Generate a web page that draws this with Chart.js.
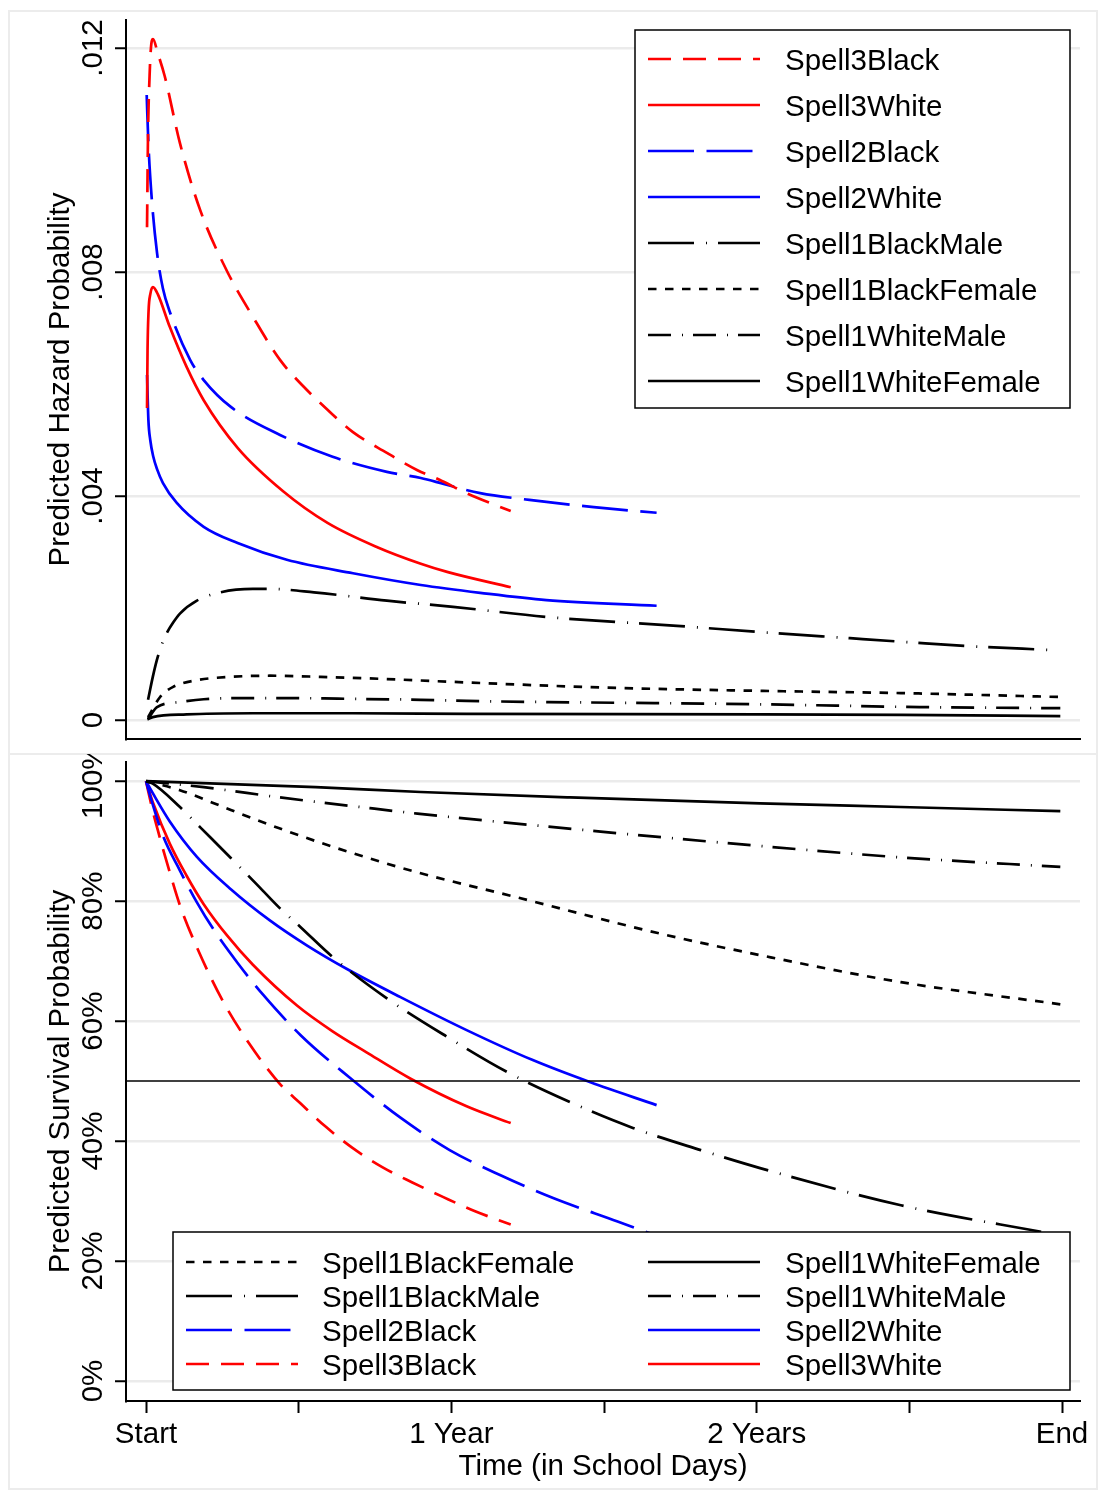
<!DOCTYPE html>
<html>
<head>
<meta charset="utf-8">
<script src="https://cdn.jsdelivr.net/npm/chart.js@4.4.0/dist/chart.umd.min.js"></script>
<style>
  body { margin: 0; background: #fff; }
  #wrap { position: relative; width: 1098px; height: 1490px; }
  canvas { position: absolute; left: 0; }
  #hazard { top: 0; }
  #survival { top: 754px; }
  .frame { position: absolute; border: 2px solid #ececec; box-sizing: border-box; }
</style>
</head>
<body>
<div id="wrap">
  <div class="frame" style="left:8px;top:10px;width:1090px;height:745px"></div>
  <div class="frame" style="left:8px;top:753px;width:1090px;height:737px"></div>
  <canvas id="hazard" width="1098" height="754"></canvas>
  <canvas id="survival" width="1098" height="736"></canvas>
</div>
<script>
// x axis runs in school days (180 per year)
const dayTicks = [0, 90, 180, 270, 360, 450, 540];
const dayTickLabels = ['Start', '', '1 Year', '', '2 Years', '', 'End'];
const dayMin = -11.8, dayMax = 550.6;

const hazardTicks = [0, 0.004, 0.008, 0.012];
const hazardTickLabels = ['0', '.004', '.008', '.012'];
const survivalTicks = [0, 20, 40, 60, 80, 100];
const survivalTickLabels = ['0%', '20%', '40%', '60%', '80%', '100%'];

// predicted hazard
const hzS3BDays = [0.6, 1.2, 2.1, 2.9, 4.1, 7, 11, 20, 32, 48, 63, 79, 93, 107, 122, 142, 160, 173, 189, 215];
const hzS3B = [0.0088, 0.0105, 0.0115, 0.0120, 0.01216, 0.0119, 0.0115, 0.0103, 0.0091, 0.0080, 0.0072, 0.00643, 0.00595, 0.00554, 0.00514, 0.00477, 0.00446, 0.00429, 0.00405, 0.00373];
const hzS3WDays = [0.6, 0.9, 1.5, 2.5, 4.1, 7, 14, 24, 34, 54, 81, 107, 136, 162, 178, 215];
const hzS3W = [0.00557, 0.0066, 0.0073, 0.0076, 0.00773, 0.0076, 0.00702, 0.0063, 0.00571, 0.00486, 0.00408, 0.00352, 0.00309, 0.00279, 0.00264, 0.00237];
const hzS2BDays = [0.4, 1.4, 3.4, 6.5, 10, 14, 26, 34, 50, 79, 110, 142, 162, 176, 197, 226, 264, 301];
const hzS2B = [0.01116, 0.0103, 0.0093, 0.00834, 0.0077, 0.00729, 0.00643, 0.00607, 0.00559, 0.00509, 0.0047, 0.00443, 0.00432, 0.00421, 0.00405, 0.00393, 0.0038, 0.0037];
const hzS2WDays = [0.6, 1.4, 2.5, 4.3, 6.5, 10, 18, 34, 54, 83, 122, 162, 197, 236, 301];
const hzS2W = [0.00616, 0.00536, 0.0050, 0.0047, 0.00448, 0.00423, 0.00388, 0.00345, 0.00316, 0.00286, 0.00262, 0.00241, 0.00227, 0.00214, 0.00204];
const hzS1BMDays = [1.2, 2.4, 4, 6.3, 9.2, 12.2, 16, 20, 30, 44, 63, 73, 99, 142, 181, 236, 313, 362, 415, 449, 484, 533];
const hzS1BM = [0.00036, 0.00054, 0.00077, 0.00106, 0.00134, 0.00155, 0.00174, 0.0019, 0.00213, 0.00228, 0.00234, 0.00234, 0.00228, 0.00213, 0.00202, 0.00184, 0.00168, 0.00157, 0.00146, 0.00139, 0.00132, 0.00125];
const hzS1BFDays = [1.2, 8.3, 16, 30, 50, 73, 103, 142, 181, 268, 362, 445, 539];
const hzS1BF = [0.00005, 0.00041, 0.00059, 0.00071, 0.00077, 0.00079, 0.00077, 0.00073, 0.00068, 0.00058, 0.00052, 0.00048, 0.00041];
const hzS1WMDays = [1.2, 6.5, 20, 34, 60, 87, 113, 162, 189, 362, 456, 539];
const hzS1WM = [0.00002, 0.00023, 0.00032, 0.00037, 0.00039, 0.00039, 0.00038, 0.00036, 0.00034, 0.00028, 0.00023, 0.00021];
const hzS1WFDays = [0.8, 4, 24, 63, 122, 189, 362, 445, 539];
const hzS1WF = [0.00001, 0.00005, 0.0001, 0.00012, 0.00012, 0.00011, 0.0001, 0.00009, 0.00007];

// predicted survival (%)
const svS1WFDays = [0, 50, 100, 162, 250, 362, 445, 539];
const svS1WF = [100, 99.5, 99, 98.2, 97.3, 96.3, 95.7, 95];
const svS1WMDays = [0, 34, 79, 132, 160, 268, 362, 445, 539];
const svS1WM = [100, 99.0, 97.3, 95.5, 94.6, 91.6, 89.2, 87.3, 85.7];
const svS1BFDays = [0, 20, 50, 79, 113, 160, 215, 303, 362, 445, 539];
const svS1BF = [100, 98.5, 95.2, 92.1, 88.8, 84.8, 80.9, 74.6, 71, 66.5, 62.8];
const svS1BMDays = [0, 4, 20, 32, 50, 67, 79, 91, 110, 142, 178, 213, 250, 287, 327, 362, 445, 533];
const svS1BM = [100, 99.6, 95.7, 92.3, 87.2, 82.3, 78.8, 75.7, 70.7, 63.8, 57.3, 51.5, 46.5, 42.2, 38.5, 35.5, 29.3, 24.6];
const svS2WDays = [0, 4, 14, 30, 50, 73, 95, 119, 150, 189, 228, 262, 301];
const svS2W = [100, 98, 93.3, 87.4, 82.0, 76.8, 72.6, 68.6, 64, 58.5, 53.5, 49.8, 46];
const svS2BDays = [0, 2.4, 10, 20, 30, 40, 54, 69, 91, 120, 150, 179, 209, 240, 278, 301];
const svS2B = [100, 97.6, 90.9, 85.1, 79.8, 75.2, 69.7, 64.4, 57.7, 50.6, 43.9, 38.5, 34.3, 30.5, 26.6, 24.2];
const svS3WDays = [0, 4, 14, 24, 34, 48, 63, 89, 110, 130, 156, 189, 215];
const svS3W = [100, 96.5, 89.6, 84.2, 79.5, 74.2, 69.4, 62.6, 58.3, 54.8, 50.4, 45.8, 43];
const svS3BDays = [0, 4, 7, 10, 14, 20, 30, 45, 60, 79, 91, 105.5, 121.5, 139, 157, 175, 194, 215];
const svS3B = [100, 95, 91.8, 88.7, 84.8, 79.3, 72.3, 63.5, 56.6, 49.5, 46.3, 42.5, 38.9, 35.7, 33.1, 30.7, 28.3, 26.1];
const medianLine = 50;

const FONT = '29.5px "Liberation Sans", Arial, sans-serif';
const LINE_W = 2.7;

const styles = {
  Spell3Black:       { color: '#ff0000', dash: [23, 12] },
  Spell3White:       { color: '#ff0000', dash: [] },
  Spell2Black:       { color: '#0000ff', dash: [46, 12.5] },
  Spell2White:       { color: '#0000ff', dash: [] },
  Spell1BlackMale:   { color: '#000000', dash: [46, 12, 1, 11] },
  Spell1BlackFemale: { color: '#000000', dash: [8.5, 8.5] },
  Spell1WhiteMale:   { color: '#000000', dash: [23, 11, 1, 10] },
  Spell1WhiteFemale: { color: '#000000', dash: [] }
};

function pts(days, vals) {
  return days.map((d, i) => ({ x: d, y: vals[i] }));
}

function series(name, days, vals) {
  const s = styles[name];
  return {
    label: name,
    data: pts(days, vals),
    borderColor: s.color,
    borderDash: s.dash,
    borderWidth: LINE_W,
    pointRadius: 0,
    fill: false,
    cubicInterpolationMode: 'monotone'
  };
}

function drawLegendRow(ctx, name, x0, x1, tx, y) {
  const s = styles[name];
  ctx.save();
  ctx.strokeStyle = s.color;
  ctx.lineWidth = LINE_W;
  ctx.setLineDash(s.dash);
  ctx.beginPath();
  ctx.moveTo(x0, y);
  ctx.lineTo(x1, y);
  ctx.stroke();
  ctx.restore();
  ctx.fillText(name, tx, y + 10.5);
}

function legendBox(ctx, x, y, w, h) {
  ctx.fillStyle = '#fff';
  ctx.fillRect(x, y, w, h);
  ctx.strokeStyle = '#000';
  ctx.lineWidth = 1.5;
  ctx.strokeRect(x, y, w, h);
  ctx.fillStyle = '#000';
}

function drawYText(chart, ticks, labels, title) {
  const { ctx, chartArea } = chart;
  const y = chart.scales.y;
  ctx.save();
  ctx.fillStyle = '#000';
  ctx.font = FONT;
  ctx.textAlign = 'center';
  ctx.textBaseline = 'alphabetic';
  ticks.forEach((v, i) => {
    ctx.save();
    ctx.translate(102, y.getPixelForValue(v));
    ctx.rotate(-Math.PI / 2);
    ctx.fillText(labels[i], 0, 0);
    ctx.restore();
  });
  ctx.translate(69, (chartArea.top + chartArea.bottom) / 2);
  ctx.rotate(-Math.PI / 2);
  ctx.fillText(title, 0, 0);
  ctx.restore();
}

function xScale(showTicks) {
  return {
    type: 'linear',
    min: dayMin,
    max: dayMax,
    afterBuildTicks: s => { s.ticks = dayTicks.map(v => ({ value: v })); },
    afterFit: s => { s.height = showTicks ? 89 : 15; },
    ticks: { display: false },
    grid: showTicks
      ? { drawOnChartArea: false, drawTicks: true, tickLength: 12, tickColor: '#000', tickWidth: 2 }
      : { display: false },
    border: { display: true, color: '#000', width: 2 }
  };
}

function yScale(min, max, ticks) {
  return {
    type: 'linear',
    min: min,
    max: max,
    afterBuildTicks: s => { s.ticks = ticks.map(v => ({ value: v })); },
    afterFit: s => { s.width = 126; },
    ticks: { display: false },
    grid: { color: '#ebebeb', lineWidth: 2.5, drawTicks: true, tickLength: 11, tickColor: '#000', tickWidth: 2 },
    border: { display: true, color: '#000', width: 2 }
  };
}

// top panel: hazard
const hazardText = {
  id: 'hazardText',
  afterDraw(chart) {
    const ctx = chart.ctx;
    drawYText(chart, hazardTicks, hazardTickLabels, 'Predicted Hazard Probability');
    ctx.save();
    ctx.font = FONT;
    ctx.textAlign = 'left';
    legendBox(ctx, 635, 30, 435, 378);
    const order = ['Spell3Black', 'Spell3White', 'Spell2Black', 'Spell2White',
      'Spell1BlackMale', 'Spell1BlackFemale', 'Spell1WhiteMale', 'Spell1WhiteFemale'];
    order.forEach((n, i) => drawLegendRow(ctx, n, 648, 760, 785, 59 + i * 46));
    ctx.restore();
  }
};

new Chart(document.getElementById('hazard'), {
  type: 'line',
  data: {
    datasets: [
      series('Spell3Black', hzS3BDays, hzS3B),
      series('Spell3White', hzS3WDays, hzS3W),
      series('Spell2Black', hzS2BDays, hzS2B),
      series('Spell2White', hzS2WDays, hzS2W),
      series('Spell1BlackMale', hzS1BMDays, hzS1BM),
      series('Spell1BlackFemale', hzS1BFDays, hzS1BF),
      series('Spell1WhiteMale', hzS1WMDays, hzS1WM),
      series('Spell1WhiteFemale', hzS1WFDays, hzS1WF)
    ]
  },
  options: {
    responsive: false,
    animation: false,
    devicePixelRatio: 1,
    layout: { padding: { top: 20, right: 18, bottom: 0, left: 0 } },
    plugins: { legend: { display: false }, tooltip: { enabled: false } },
    scales: {
      x: xScale(false),
      y: yScale(-0.00034, 0.0125, hazardTicks)
    }
  },
  plugins: [hazardText]
});

// bottom panel: survival
const survivalText = {
  id: 'survivalText',
  afterDraw(chart) {
    const ctx = chart.ctx;
    const x = chart.scales.x;
    drawYText(chart, survivalTicks, survivalTickLabels, 'Predicted Survival Probability');
    ctx.save();
    ctx.font = FONT;
    ctx.fillStyle = '#000';
    ctx.textAlign = 'center';
    dayTicks.forEach((v, i) => {
      if (dayTickLabels[i]) ctx.fillText(dayTickLabels[i], x.getPixelForValue(v), 1443 - 754);
    });
    ctx.fillText('Time (in School Days)', (chart.chartArea.left + chart.chartArea.right) / 2, 1475 - 754);
    ctx.textAlign = 'left';
    legendBox(ctx, 173, 1232 - 754, 897, 158);
    const left = ['Spell1BlackFemale', 'Spell1BlackMale', 'Spell2Black', 'Spell3Black'];
    const right = ['Spell1WhiteFemale', 'Spell1WhiteMale', 'Spell2White', 'Spell3White'];
    left.forEach((n, i) => drawLegendRow(ctx, n, 186, 298, 322, 1262 - 754 + i * 34));
    right.forEach((n, i) => drawLegendRow(ctx, n, 648, 760, 785, 1262 - 754 + i * 34));
    ctx.restore();
  }
};

new Chart(document.getElementById('survival'), {
  type: 'line',
  data: {
    datasets: [
      {
        label: 'median',
        data: [{ x: dayMin, y: medianLine }, { x: dayMax, y: medianLine }],
        borderColor: '#000',
        borderWidth: 1.5,
        pointRadius: 0
      },
      series('Spell1BlackFemale', svS1BFDays, svS1BF),
      series('Spell1BlackMale', svS1BMDays, svS1BM),
      series('Spell2Black', svS2BDays, svS2B),
      series('Spell3Black', svS3BDays, svS3B),
      series('Spell1WhiteFemale', svS1WFDays, svS1WF),
      series('Spell1WhiteMale', svS1WMDays, svS1WM),
      series('Spell2White', svS2WDays, svS2W),
      series('Spell3White', svS3WDays, svS3W)
    ]
  },
  options: {
    responsive: false,
    animation: false,
    devicePixelRatio: 1,
    layout: { padding: { top: 8, right: 18, bottom: 0, left: 0 } },
    plugins: { legend: { display: false }, tooltip: { enabled: false } },
    scales: {
      x: xScale(true),
      y: yScale(-3.33, 103.2, survivalTicks)
    }
  },
  plugins: [survivalText]
});
</script>
</body>
</html>
